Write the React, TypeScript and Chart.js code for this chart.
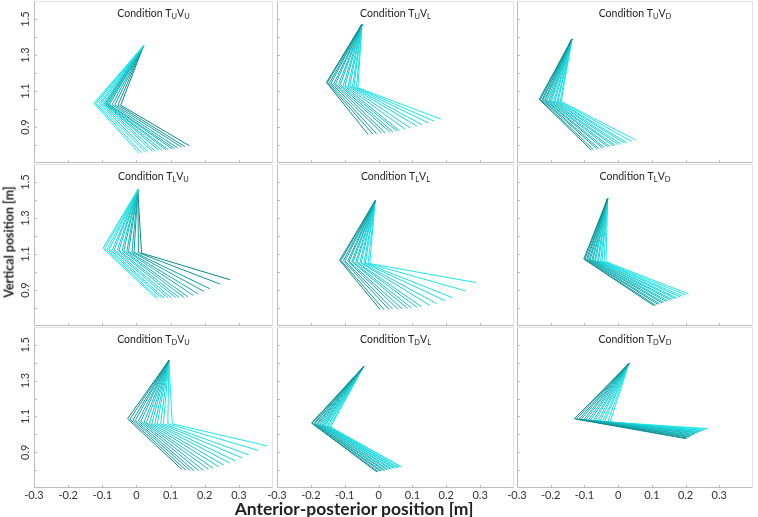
import React, { useEffect, useRef } from 'react';
import { Chart, registerables } from 'chart.js';
Chart.register(...registerables);

const W = 758;
const H = 517;

// axis ranges and tick labels
const xMin = -0.3;
const xMax = 0.4;
const yMin = 0.7;
const yMax = 1.6;
const xTickLabels = ['-0.3', '-0.2', '-0.1', '0', '0.1', '0.2', '0.3'];
const yTickLabels = ['0.9', '1.1', '1.3', '1.5'];
const trunkSubs = ['U', 'L', 'D'];
const visionSubs = ['U', 'L', 'D'];

// ---- Condition TU VU ----
const tuvuTop = [0.021, 1.352];
const tuvuJointX = [-0.125, -0.120, -0.116, -0.109, -0.104, -0.098, -0.094, -0.092, -0.089, -0.087, -0.083, -0.079, -0.071, -0.063, -0.054, -0.046];
const tuvuJointY = [1.032, 1.032, 1.031, 1.030, 1.030, 1.029, 1.028, 1.028, 1.027, 1.027, 1.026, 1.025, 1.024, 1.023, 1.022, 1.021];
const tuvuTipX = [0.007, 0.015, 0.027, 0.035, 0.047, 0.055, 0.067, 0.075, 0.086, 0.093, 0.105, 0.112, 0.121, 0.133, 0.142, 0.155];
const tuvuTipY = [0.756, 0.757, 0.760, 0.761, 0.764, 0.765, 0.768, 0.770, 0.773, 0.774, 0.778, 0.780, 0.783, 0.788, 0.791, 0.796];

// ---- Condition TU VL ----
const tuvlTop = [-0.049, 1.472];
const tuvlJointX = [-0.154, -0.151, -0.145, -0.140, -0.132, -0.127, -0.118, -0.113, -0.104, -0.099, -0.090, -0.085, -0.077, -0.073, -0.065, -0.061];
const tuvlJointY = [1.148, 1.147, 1.144, 1.143, 1.140, 1.139, 1.136, 1.135, 1.132, 1.131, 1.128, 1.127, 1.124, 1.123, 1.120, 1.118];
const tuvlTipX = [-0.031, -0.017, -0.006, 0.009, 0.019, 0.033, 0.042, 0.054, 0.062, 0.079, 0.094, 0.113, 0.128, 0.147, 0.164, 0.184];
const tuvlTipY = [0.859, 0.861, 0.863, 0.867, 0.868, 0.872, 0.873, 0.877, 0.878, 0.887, 0.894, 0.905, 0.912, 0.923, 0.932, 0.944];

// ---- Condition TU VD ----
const tuvdTop = [-0.137, 1.389];
const tuvdJointX = [-0.234, -0.231, -0.226, -0.223, -0.218, -0.215, -0.210, -0.205, -0.201, -0.197, -0.191, -0.187, -0.181, -0.178, -0.172, -0.169];
const tuvdJointY = [1.054, 1.053, 1.052, 1.052, 1.051, 1.050, 1.049, 1.048, 1.048, 1.047, 1.046, 1.045, 1.044, 1.043, 1.042, 1.041];
const tuvdTipX = [-0.080, -0.073, -0.063, -0.057, -0.047, -0.041, -0.031, -0.025, -0.015, -0.009, 0.001, 0.008, 0.019, 0.026, 0.040, 0.052];
const tuvdTipY = [0.772, 0.774, 0.778, 0.780, 0.784, 0.786, 0.790, 0.792, 0.796, 0.798, 0.802, 0.805, 0.810, 0.813, 0.820, 0.828];

// ---- Condition TL VU ----
const tlvuTop = [0.004, 1.457];
const tlvuJointX = [-0.098, -0.093, -0.085, -0.079, -0.070, -0.065, -0.056, -0.051, -0.042, -0.037, -0.028, -0.023, -0.013, -0.007, 0.006, 0.015];
const tlvuJointY = [1.133, 1.132, 1.129, 1.128, 1.125, 1.124, 1.122, 1.121, 1.119, 1.118, 1.115, 1.114, 1.111, 1.110, 1.107, 1.105];
const tlvuTipX = [0.056, 0.063, 0.074, 0.081, 0.093, 0.102, 0.115, 0.125, 0.140, 0.151, 0.167, 0.180, 0.198, 0.215, 0.245, 0.274];
const tlvuTipY = [0.856, 0.856, 0.855, 0.855, 0.855, 0.856, 0.857, 0.858, 0.858, 0.862, 0.870, 0.879, 0.892, 0.907, 0.933, 0.957];

// ---- Condition TL VL ----
const tlvlTop = [-0.010, 1.396];
const tlvlJointX = [-0.115, -0.111, -0.104, -0.099, -0.091, -0.087, -0.079, -0.075, -0.067, -0.063, -0.055, -0.051, -0.043, -0.039, -0.031, -0.026];
const tlvlJointY = [1.065, 1.064, 1.063, 1.062, 1.060, 1.059, 1.058, 1.057, 1.056, 1.055, 1.054, 1.052, 1.051, 1.050, 1.048, 1.047];
const tlvlTipX = [0.005, 0.016, 0.031, 0.042, 0.057, 0.069, 0.085, 0.097, 0.114, 0.127, 0.151, 0.171, 0.196, 0.219, 0.256, 0.288];
const tlvlTipY = [0.791, 0.791, 0.792, 0.793, 0.794, 0.796, 0.798, 0.800, 0.803, 0.807, 0.815, 0.825, 0.841, 0.857, 0.896, 0.941];

// ---- Condition TL VD ----
const tlvdTop = [-0.031, 1.409];
const tlvdJointX = [-0.102, -0.099, -0.094, -0.091, -0.086, -0.083, -0.078, -0.075, -0.070, -0.067, -0.061, -0.058, -0.052, -0.048, -0.042, -0.036];
const tlvdJointY = [1.072, 1.071, 1.070, 1.069, 1.068, 1.067, 1.066, 1.065, 1.064, 1.063, 1.062, 1.061, 1.060, 1.059, 1.058, 1.057];
const tlvdTipX = [0.106, 0.111, 0.118, 0.123, 0.130, 0.135, 0.142, 0.147, 0.155, 0.161, 0.169, 0.175, 0.184, 0.191, 0.200, 0.209];
const tlvdTipY = [0.813, 0.815, 0.820, 0.823, 0.828, 0.831, 0.836, 0.839, 0.844, 0.847, 0.852, 0.855, 0.861, 0.865, 0.872, 0.878];

// ---- Condition TD VU ----
const tdvuTop = [0.095, 1.413];
const tdvuJointX = [-0.026, -0.019, -0.010, -0.003, 0.006, 0.013, 0.022, 0.029, 0.038, 0.045, 0.054, 0.061, 0.071, 0.079, 0.092, 0.105];
const tdvuJointY = [1.087, 1.085, 1.081, 1.079, 1.075, 1.073, 1.068, 1.065, 1.062, 1.061, 1.060, 1.060, 1.059, 1.059, 1.059, 1.059];
const tdvuTipX = [0.134, 0.145, 0.158, 0.169, 0.183, 0.196, 0.211, 0.225, 0.241, 0.256, 0.273, 0.289, 0.310, 0.329, 0.357, 0.384];
const tdvuTipY = [0.802, 0.800, 0.797, 0.796, 0.797, 0.799, 0.805, 0.810, 0.819, 0.828, 0.840, 0.852, 0.868, 0.885, 0.910, 0.935];

// ---- Condition TD VL ----
const tdvlTop = [-0.044, 1.379];
const tdvlJointX = [-0.198, -0.196, -0.191, -0.188, -0.183, -0.180, -0.175, -0.172, -0.167, -0.164, -0.160, -0.157, -0.152, -0.150, -0.145, -0.142];
const tdvlJointY = [1.063, 1.062, 1.060, 1.059, 1.057, 1.056, 1.055, 1.053, 1.052, 1.050, 1.049, 1.048, 1.046, 1.045, 1.043, 1.041];
const tdvlTipX = [-0.005, -0.001, 0.005, 0.009, 0.015, 0.019, 0.025, 0.029, 0.035, 0.039, 0.045, 0.049, 0.055, 0.058, 0.064, 0.068];
const tdvlTipY = [0.790, 0.791, 0.794, 0.795, 0.798, 0.799, 0.802, 0.803, 0.806, 0.807, 0.810, 0.811, 0.813, 0.814, 0.817, 0.818];

// ---- Condition TD VD ----
const tdvdTop = [0.032, 1.396];
const tdvdJointX = [-0.130, -0.124, -0.116, -0.110, -0.102, -0.096, -0.088, -0.082, -0.074, -0.068, -0.060, -0.054, -0.046, -0.040, -0.031, -0.024];
const tdvdJointY = [1.087, 1.086, 1.085, 1.084, 1.082, 1.081, 1.080, 1.079, 1.077, 1.076, 1.075, 1.074, 1.072, 1.071, 1.070, 1.068];
const tdvdTipX = [0.201, 0.204, 0.209, 0.212, 0.217, 0.220, 0.225, 0.228, 0.233, 0.236, 0.241, 0.244, 0.250, 0.254, 0.260, 0.266];
const tdvdTipY = [0.976, 0.979, 0.984, 0.987, 0.992, 0.995, 1.000, 1.003, 1.008, 1.010, 1.014, 1.016, 1.021, 1.023, 1.028, 1.032];

// ---- layout (pixel boxes of panels) ----
const colLeft = [34, 277, 517];
const colRight = [273, 514, 753];
const rowTop = [1, 164, 327];
const rowBottom = [163, 326, 488];

type PanelDef = {
  row: number; col: number; top: number[];
  jx: number[]; jy: number[]; tx: number[]; ty: number[]; cyanFirst: boolean;
};

const panels: PanelDef[] = [
  { row: 0, col: 0, top: tuvuTop, jx: tuvuJointX, jy: tuvuJointY, tx: tuvuTipX, ty: tuvuTipY, cyanFirst: true },
  { row: 0, col: 1, top: tuvlTop, jx: tuvlJointX, jy: tuvlJointY, tx: tuvlTipX, ty: tuvlTipY, cyanFirst: false },
  { row: 0, col: 2, top: tuvdTop, jx: tuvdJointX, jy: tuvdJointY, tx: tuvdTipX, ty: tuvdTipY, cyanFirst: false },
  { row: 1, col: 0, top: tlvuTop, jx: tlvuJointX, jy: tlvuJointY, tx: tlvuTipX, ty: tlvuTipY, cyanFirst: true },
  { row: 1, col: 1, top: tlvlTop, jx: tlvlJointX, jy: tlvlJointY, tx: tlvlTipX, ty: tlvlTipY, cyanFirst: false },
  { row: 1, col: 2, top: tlvdTop, jx: tlvdJointX, jy: tlvdJointY, tx: tlvdTipX, ty: tlvdTipY, cyanFirst: false },
  { row: 2, col: 0, top: tdvuTop, jx: tdvuJointX, jy: tdvuJointY, tx: tdvuTipX, ty: tdvuTipY, cyanFirst: false },
  { row: 2, col: 1, top: tdvlTop, jx: tdvlJointX, jy: tdvlJointY, tx: tdvlTipX, ty: tdvlTipY, cyanFirst: false },
  { row: 2, col: 2, top: tdvdTop, jx: tdvdJointX, jy: tdvdJointY, tx: tdvdTipX, ty: tdvdTipY, cyanFirst: false },
];

const FONT = 'Lato, "Open Sans", sans-serif';
const dark = [10, 136, 140];
const cyan = [28, 232, 236];

function frameColor(i: number, n: number, cyanFirst: boolean) {
  let t = n > 1 ? i / (n - 1) : 0;
  if (cyanFirst) t = 1 - t;
  t = Math.pow(t, 0.7);
  const c = dark.map((d, k) => Math.round(d + (cyan[k] - d) * t));
  return `rgb(${c[0]},${c[1]},${c[2]})`;
}

function fmt(v: number) {
  const r = Math.round(v * 10) / 10;
  return r === 0 ? '0' : r.toFixed(1);
}

const framePlugin = {
  id: 'panelFrame',
  beforeDatasetsDraw(chart: any) {
    const { ctx, chartArea: a, scales } = chart;
    ctx.save();
    ctx.lineWidth = 1;
    ctx.strokeStyle = '#e2e2e2';
    ctx.beginPath();
    ctx.moveTo(a.left + 0.5, a.top + 0.5);
    ctx.lineTo(a.right - 0.5, a.top + 0.5);
    ctx.lineTo(a.right - 0.5, a.bottom - 0.5);
    ctx.stroke();
    ctx.strokeStyle = '#bcbcbc';
    ctx.beginPath();
    ctx.moveTo(a.left + 0.5, a.top + 0.5);
    ctx.lineTo(a.left + 0.5, a.bottom - 0.5);
    ctx.lineTo(a.right - 0.5, a.bottom - 0.5);
    ctx.stroke();
    ctx.beginPath();
    for (const t of scales.y.ticks) {
      if (t.value <= yMin + 1e-6 || t.value >= yMax - 1e-6) continue;
      const py = Math.round(scales.y.getPixelForValue(t.value)) + 0.5;
      ctx.moveTo(a.left, py);
      ctx.lineTo(a.left + 3, py);
    }
    for (const t of scales.x.ticks) {
      if (t.value <= xMin + 1e-6 || t.value >= xMax - 1e-6) continue;
      const px = Math.round(scales.x.getPixelForValue(t.value)) + 0.5;
      ctx.moveTo(px, a.bottom);
      ctx.lineTo(px, a.bottom - 3);
    }
    ctx.stroke();
    ctx.restore();
  },
};

function titlePlugin(tSub: string, vSub: string) {
  return {
    id: 'panelTitle',
    afterDraw(chart: any) {
      const { ctx, chartArea: a } = chart;
      const parts: [string, boolean][] = [['Condition T', false], [tSub, true], ['V', false], [vSub, true]];
      const mainFont = `10.5px ${FONT}`;
      const subFont = `7.5px ${FONT}`;
      ctx.save();
      let total = 0;
      const widths = parts.map(([s, sub]) => {
        ctx.font = sub ? subFont : mainFont;
        const w = ctx.measureText(s).width;
        total += w;
        return w;
      });
      let x = (a.left + a.right) / 2 - total / 2;
      const y = a.top + 15.5;
      ctx.fillStyle = '#222';
      ctx.textBaseline = 'alphabetic';
      ctx.textAlign = 'left';
      parts.forEach(([s, sub], i) => {
        ctx.font = sub ? subFont : mainFont;
        ctx.fillText(s, x, sub ? y + 2.5 : y);
        x += widths[i];
      });
      ctx.restore();
    },
  };
}

function Panel({ p }: { p: PanelDef }) {
  const ref = useRef<HTMLCanvasElement | null>(null);
  useEffect(() => {
    const canvas = ref.current;
    if (!canvas) return;
    const L = colLeft[p.col];
    const R = colRight[p.col];
    const T = rowTop[p.row];
    const B = rowBottom[p.row];
    const isLeft = p.col === 0;
    const isBottom = p.row === 2;
    const yAxisWidth = isLeft ? L : 0;
    const xAxisHeight = isBottom ? H - B : 0;
    const n = p.jx.length;
    const datasets = p.jx.map((_, i) => ({
      data: [
        { x: p.top[0], y: p.top[1] },
        { x: p.jx[i], y: p.jy[i] },
        { x: p.tx[i], y: p.ty[i] },
      ],
      showLine: true,
      borderColor: frameColor(i, n, p.cyanFirst),
      borderWidth: 1,
      pointRadius: 0,
      fill: false,
      tension: 0,
    }));
    const chart = new Chart(canvas, {
      type: 'scatter',
      data: { datasets },
      options: {
        animation: false,
        responsive: false,
        events: [],
        layout: {
          padding: { left: L - yAxisWidth, top: T, right: W - R, bottom: H - B - xAxisHeight },
        },
        plugins: {
          legend: { display: false },
          tooltip: { enabled: false },
          title: { display: false },
        },
        scales: {
          x: {
            type: 'linear',
            position: 'bottom',
            min: xMin,
            max: xMax,
            grid: { display: false, drawTicks: false },
            border: { display: false },
            ticks: {
              display: isBottom,
              stepSize: 0.1,
              autoSkip: false,
              minRotation: 0,
              maxRotation: 0,
              padding: 1,
              color: '#333',
              font: { family: FONT, size: 11 },
              callback: (v: any) => {
                const s = fmt(Number(v));
                return xTickLabels.includes(s) ? s : '';
              },
            },
            afterFit: (s: any) => {
              s.height = xAxisHeight;
              s.paddingLeft = 0;
              s.paddingRight = 0;
            },
          },
          y: {
            type: 'linear',
            position: 'left',
            min: yMin,
            max: yMax,
            grid: { display: false, drawTicks: false },
            border: { display: false },
            ticks: {
              display: isLeft,
              stepSize: 0.1,
              autoSkip: false,
              minRotation: 90,
              maxRotation: 90,
              crossAlign: 'center',
              padding: 1,
              color: '#333',
              font: { family: FONT, size: 11 },
              callback: (v: any) => {
                const s = fmt(Number(v));
                return yTickLabels.includes(s) ? s : '';
              },
            },
            afterFit: (s: any) => {
              s.width = yAxisWidth;
              s.paddingTop = 0;
              s.paddingBottom = 0;
            },
          },
        },
      } as any,
      plugins: [framePlugin, titlePlugin(trunkSubs[p.row], visionSubs[p.col])],
    });
    return () => chart.destroy();
  }, [p]);
  return (
    <canvas
      ref={ref}
      width={W}
      height={H}
      style={{ position: 'absolute', left: 0, top: 0, width: W, height: H }}
    />
  );
}

export default function App() {
  return (
    <div style={{ position: 'absolute', left: 0, top: 0, width: W, height: H, background: '#fff', overflow: 'hidden' }}>
      {panels.map((p, i) => (
        <Panel key={i} p={p} />
      ))}
      <div
        style={{
          position: 'absolute',
          left: 354,
          top: 508,
          transform: 'translate(-50%, -50%)',
          whiteSpace: 'nowrap',
          font: `bold 17.5px ${FONT}`,
          color: '#222',
        }}
      >
        Anterior-posterior position [m]
      </div>
      <div
        style={{
          position: 'absolute',
          left: 9,
          top: 242,
          transform: 'translate(-50%, -50%) rotate(-90deg)',
          whiteSpace: 'nowrap',
          font: `bold 12.5px ${FONT}`,
          color: '#222',
        }}
      >
        Vertical position [m]
      </div>
    </div>
  );
}
